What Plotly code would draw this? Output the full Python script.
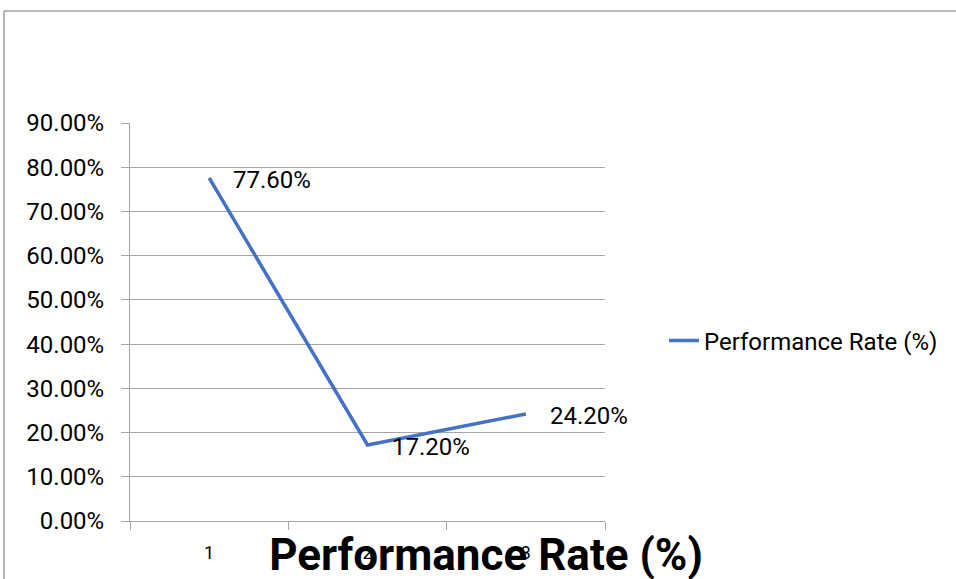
import plotly.graph_objects as go

# Data
categories = ["1", "2", "3"]
rates = [0.776, 0.172, 0.242]
series_name = "Performance Rate (%)"
y_ticks = [0.0, 0.1, 0.2, 0.3, 0.4, 0.5, 0.6, 0.7, 0.8, 0.9]

W, H = 956, 579
M_L, M_R, M_T, M_B = 130, 351, 123, 58
PLOT_W = W - M_L - M_R
PLOT_H = H - M_T - M_B

LINE_BLUE = "#4472C4"
GRID = "#a6a6a6"
FONT = "Roboto, Lato, 'Open Sans', sans-serif"


def px_x(px):
    return (px - M_L) / PLOT_W


def px_y(py):
    return (H - M_B - py) / PLOT_H


fig = go.Figure()
fig.add_trace(go.Scatter(
    x=categories,
    y=rates,
    mode="lines",
    name=series_name,
    line=dict(color=LINE_BLUE, width=3.5),
    showlegend=True,
))

# value labels to the right of each point (x given as category index)
for i, v in enumerate(rates):
    fig.add_annotation(
        x=i, y=v, text=f"{v * 100:.2f}%", showarrow=False,
        xanchor="left", yanchor="middle", xshift=22, yshift=-2,
        font=dict(family=FONT, size=24, color="#000000"),
    )

# outer chart frame (top and left edges)
fig.add_shape(type="line", xref="paper", yref="paper",
              x0=px_x(4), x1=px_x(W + 10), y0=px_y(11), y1=px_y(11),
              line=dict(color="#a0a0a0", width=1.5))
fig.add_shape(type="line", xref="paper", yref="paper",
              x0=px_x(4), x1=px_x(4), y0=px_y(11), y1=px_y(H + 10),
              line=dict(color="#a0a0a0", width=1.5))

fig.update_layout(
    width=W, height=H,
    margin=dict(l=M_L, r=M_R, t=M_T, b=M_B, autoexpand=False),
    paper_bgcolor="white", plot_bgcolor="white",
    title=dict(
        text="<b>" + series_name + "</b>",
        x=486 / W, xanchor="center", xref="container",
        y=1 - 555 / H, yanchor="middle", yref="container",
        font=dict(family=FONT, size=44, color="#000000"),
    ),
    legend=dict(
        x=px_x(664), y=px_y(341), xanchor="left", yanchor="middle",
        font=dict(family=FONT, size=24, color="#000000"),
        bgcolor="rgba(0,0,0,0)", borderwidth=0,
    ),
    xaxis=dict(
        type="category",
        range=[-0.5, len(categories) - 0.5],
        tickson="boundaries",
        ticks="outside", ticklen=8, tickcolor=GRID, tickwidth=1,
        showline=True, linecolor=GRID, linewidth=1,
        showgrid=False, zeroline=False,
        ticklabelstandoff=15,
        tickfont=dict(family=FONT, size=18, color="#000000"),
        fixedrange=True,
    ),
    yaxis=dict(
        range=[0, 0.9],
        tickvals=y_ticks,
        tickformat=".2%",
        ticks="outside", ticklen=8, tickcolor=GRID, tickwidth=1,
        showline=True, linecolor=GRID, linewidth=1,
        showgrid=True, gridcolor=GRID, gridwidth=1,
        zeroline=False,
        ticklabelstandoff=12,
        tickfont=dict(family=FONT, size=24, color="#000000"),
        fixedrange=True,
    ),
)

fig.write_html("out.html")
